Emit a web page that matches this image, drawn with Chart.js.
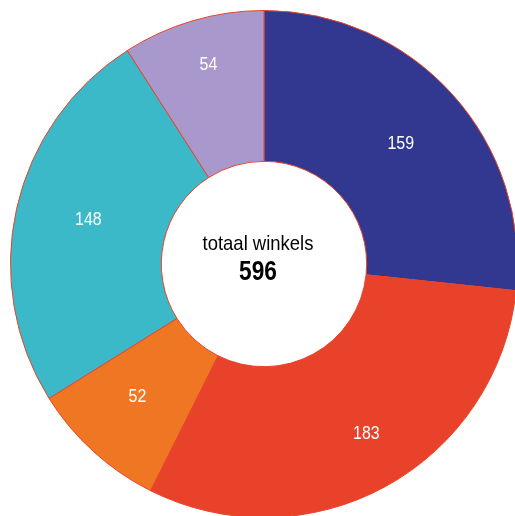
<!DOCTYPE html>
<html>
<head>
<meta charset="utf-8">
<script src="https://cdn.jsdelivr.net/npm/chart.js@4"></script>
<style>
  html, body { margin: 0; padding: 0; background: #fff; overflow: hidden; width: 515px; height: 516px; }
  #wrap { position: absolute; left: 10px; top: 10px; width: 508px; height: 508px; }
</style>
</head>
<body>
<div id="wrap"><canvas id="donut" width="508" height="508"></canvas></div>
<script>
const categories = ["A", "B", "C", "D", "E"];
const values = [159, 183, 52, 148, 54];
const colors = ["#32378f", "#e8432a", "#ef7622", "#3cb9c9", "#a998cb"];
const centerLabel = "totaal winkels";
const total = values.reduce((a, b) => a + b, 0);

const FONT = "'Liberation Sans', Arial, sans-serif";

// draw text squeezed horizontally to look like a narrow font
function narrowText(ctx, text, x, y, sx) {
  ctx.save();
  ctx.translate(x, y);
  ctx.scale(sx, 1);
  ctx.fillText(text, 0, 0);
  ctx.restore();
}

const sliceLabels = {
  id: "sliceLabels",
  afterDatasetsDraw(chart, args, opts) {
    const ctx = chart.ctx;
    const meta = chart.getDatasetMeta(0);
    ctx.save();
    ctx.fillStyle = "#fff";
    ctx.font = "19px " + FONT;
    ctx.textAlign = "center";
    ctx.textBaseline = "middle";
    meta.data.forEach((arc, i) => {
      const mid = (arc.startAngle + arc.endAngle) / 2 + opts.shift[i] * Math.PI / 180;
      const r = arc.outerRadius * opts.radii[i];
      narrowText(ctx, String(values[i]), arc.x + Math.cos(mid) * r, arc.y + Math.sin(mid) * r + 1, 0.84);
    });

    // center text
    const cx = meta.data[0].x - 6;
    const cy = meta.data[0].y;
    ctx.fillStyle = "#000";
    ctx.font = "21px " + FONT;
    narrowText(ctx, centerLabel, cx, cy - 20, 0.88);
    ctx.font = "bold 27px " + FONT;
    narrowText(ctx, String(total), cx, cy + 9, 0.84);
    ctx.restore();
  }
};

new Chart(document.getElementById("donut"), {
  type: "doughnut",
  data: {
    labels: categories,
    datasets: [{
      data: values,
      backgroundColor: colors,
      borderColor: "#e8432a",
      borderWidth: 1
    }]
  },
  options: {
    responsive: false,
    animation: false,
    cutout: "40.5%",
    layout: { padding: 0 },
    plugins: {
      legend: { display: false },
      tooltip: { enabled: false },
      sliceLabels: {
        radii: [0.72, 0.78, 0.72, 0.716, 0.82],
        shift: [0.5, -2.5, 1.6, 1.9, 0.8]
      }
    }
  },
  plugins: [sliceLabels]
});
</script>
</body>
</html>
